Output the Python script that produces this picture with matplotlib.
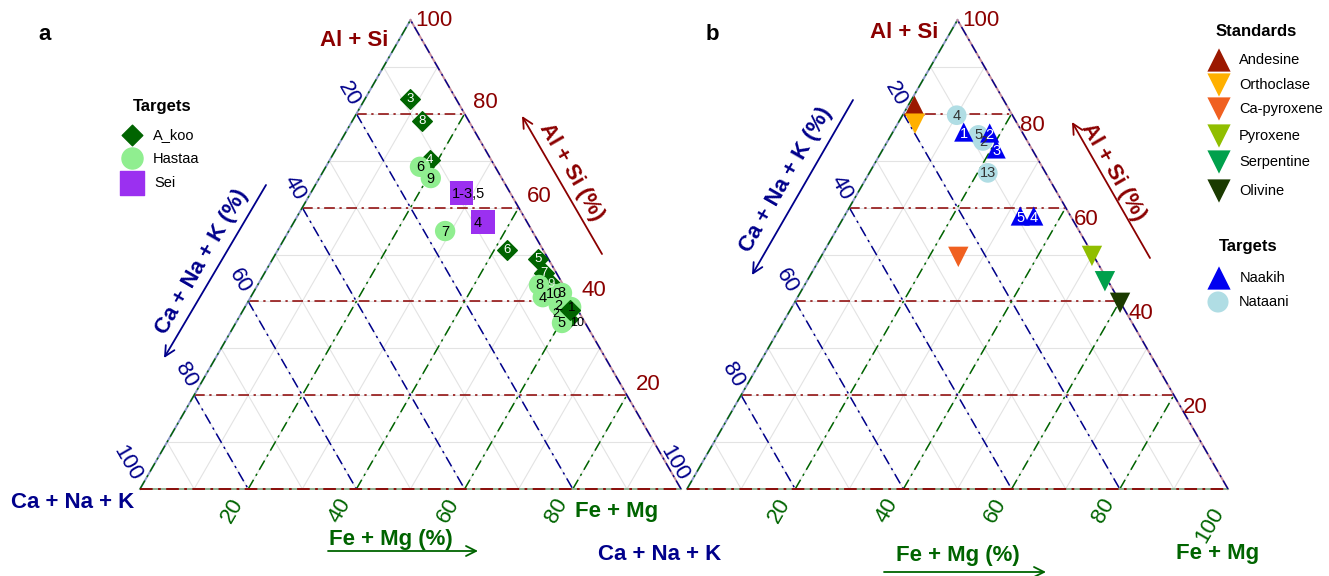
import numpy as np
import matplotlib
matplotlib.use('Agg')
import matplotlib.pyplot as plt

plt.rcParams['font.family'] = ['Liberation Sans', 'DejaVu Sans']

# ---------------- data (ternary %, Al+Si / Fe+Mg ; Ca+Na+K = rest) ----------------
akoo_labels = ['3', '8', '4', '6', '5', '7', '9', '1', '2', '10']
akoo_al = [83.2, 78.5, 70.1, 51.0, 49.0, 46.1, 43.7, 38.2, 37.5, 36.2]
akoo_fe = [8.3, 12.9, 18.5, 42.3, 49.1, 51.7, 54.1, 60.4, 59.4, 61.0]

hastaa_labels = ['6', '9', '7', '8', '4', '10', '3', '2', '1', '5']
hastaa_al = [68.7, 66.3, 55.0, 43.5, 40.9, 41.6, 41.8, 39.2, 38.8, 35.4]
hastaa_fe = [17.4, 20.6, 28.9, 52.0, 54.0, 55.7, 57.1, 57.8, 60.3, 60.3]

sei_labels = ['1-3,5', '4']
sei_al = [63.1, 56.9]
sei_fe = [27.9, 34.9]

std_names = ['Andesine', 'Orthoclase', 'Ca-pyroxene', 'Pyroxene', 'Serpentine', 'Olivine']
std_markers = ['^', 'v', 'v', 'v', 'v', 'v']
std_colors = ['#9B1800', '#FFB000', '#F06020', '#90BE00', '#00A04C', '#1A3A00']
std_al = [81.7, 77.9, 49.5, 49.7, 44.3, 39.7]
std_fe = [1.2, 3.2, 25.4, 50.0, 55.1, 60.2]

naakih_labels = ['1', '2', '3', '5', '4']
naakih_al = [76.1, 75.9, 72.5, 58.2, 58.2]
naakih_fe = [13.1, 18.0, 20.9, 32.5, 35.0]

nataani_labels = ['4', '5', '2', '13']
nataani_al = [79.7, 75.5, 74.2, 67.4]
nataani_fe = [10.0, 16.1, 17.6, 21.9]

ticks = [20, 40, 60, 80, 100]

# ---------------- colours ----------------
RED = '#8B0000'
BLUE = '#00008B'
GREEN = '#006400'
GRID = '#e3e3e3'
DD = (0, (7, 3, 1.5, 3))

W, H = 1329, 576
fig = plt.figure(figsize=(W / 100, H / 100), dpi=100)
ax = fig.add_axes([0, 0, 1, 1])
ax.set_xlim(0, W)
ax.set_ylim(H, 0)
ax.axis('off')

SIDE, HT = 541.0, 469.0


def tern(x0, y0, al, fe):
    al = np.asarray(al, float)
    fe = np.asarray(fe, float)
    return x0 + (fe + al / 2) / 100 * SIDE, y0 - al / 100 * HT


def seg(x0, y0, p, q, **kw):
    xs, ys = tern(x0, y0, [p[0], q[0]], [p[1], q[1]])
    ax.plot(xs, ys, **kw)


def draw_frame(x0, y0):
    # fine grid
    for v in range(10, 100, 10):
        seg(x0, y0, (v, 0), (v, 100 - v), color=GRID, lw=0.8, zorder=1)
        seg(x0, y0, (100 - v, 0), (0, 100 - v), color=GRID, lw=0.8, zorder=1)
        seg(x0, y0, (0, v), (100 - v, v), color=GRID, lw=0.8, zorder=1)
    # major dash-dot lines
    for v in [20, 40, 60, 80]:
        seg(x0, y0, (v, 0), (v, 100 - v), color=RED, lw=1.1, ls=DD, zorder=2)
        seg(x0, y0, (100 - v, 0), (0, 100 - v), color=BLUE, lw=1.1, ls=DD, zorder=2)
        seg(x0, y0, (0, v), (100 - v, v), color=GREEN, lw=1.1, ls=DD, zorder=2)
    # edges
    seg(x0, y0, (0, 0), (100, 0), color='#8d98c8', lw=1.4, zorder=2)
    seg(x0, y0, (0, 0), (100, 0), color=GREEN, lw=1.0, ls=DD, zorder=3)
    seg(x0, y0, (0, 100), (100, 0), color='#c48c9c', lw=1.4, zorder=2)
    seg(x0, y0, (0, 100), (100, 0), color=BLUE, lw=1.0, ls=DD, zorder=3)
    seg(x0, y0, (0, 0), (0, 100), color='#8fae8f', lw=1.4, zorder=2)
    seg(x0, y0, (0, 0), (0, 100), color=RED, lw=1.3, ls=DD, zorder=3)


def draw_ticks(x0, y0, al_off, fe100):
    tfs = 16
    for v in ticks:
        # Al+Si on the right edge
        px, py = tern(x0, y0, v, 100 - v)
        if v == 100:
            ax.text(px + 23, py + 1, str(v), color=RED, fontsize=tfs, ha='center', va='center')
        else:
            ax.text(px + al_off[0], py + al_off[1], str(v), color=RED, fontsize=tfs,
                    ha='center', va='center')
        # Ca+Na+K on the left edge
        px, py = tern(x0, y0, 100 - v, 0)
        if v == 100:
            ax.text(px - 13, py - 26, str(v), color=BLUE, fontsize=tfs, rotation=-60,
                    ha='center', va='center', rotation_mode='anchor')
        else:
            ax.text(px - 8, py - 20, str(v), color=BLUE, fontsize=tfs, rotation=-60,
                    ha='center', va='center', rotation_mode='anchor')
        # Fe+Mg on the bottom
        px, py = tern(x0, y0, 0, v)
        if v == 100:
            if fe100:
                ax.text(px - 18, py + 36, str(v), color=GREEN, fontsize=tfs, rotation=60,
                        ha='center', va='center', rotation_mode='anchor')
        else:
            ax.text(px - 16, py + 22, str(v), color=GREEN, fontsize=tfs, rotation=60,
                    ha='center', va='center', rotation_mode='anchor')


def arrow(tail, head, color):
    ax.annotate('', xy=head, xytext=tail,
                arrowprops=dict(arrowstyle='->', color=color, lw=1.3, mutation_scale=18,
                                shrinkA=0, shrinkB=0))


LFS = 16
# ================= panel a =================
xa, ya = 140, 489
draw_frame(xa, ya)
draw_ticks(xa, ya, (21, -11), False)
ax.text(45, 35, 'a', fontsize=16, fontweight='bold', ha='center', va='center')
ax.text(354, 40, 'Al + Si', color=RED, fontsize=LFS, fontweight='bold', ha='center', va='center')
ax.text(73, 503, 'Ca + Na + K', color=BLUE, fontsize=LFS, fontweight='bold', ha='center', va='center')
ax.text(617, 512, 'Fe + Mg', color=GREEN, fontsize=LFS, fontweight='bold', ha='center', va='center')
ax.text(571, 172, 'Al + Si (%)', color=RED, fontsize=LFS, fontweight='bold', rotation=-60,
        ha='center', va='center', rotation_mode='anchor')
arrow((602, 254), (522, 116), RED)
ax.text(202, 262, 'Ca + Na + K (%)', color=BLUE, fontsize=LFS, fontweight='bold', rotation=60,
        ha='center', va='center', rotation_mode='anchor')
arrow((266, 185), (164, 358), BLUE)
ax.text(391, 539, 'Fe + Mg (%)', color=GREEN, fontsize=LFS, fontweight='bold', ha='center', va='center')
arrow((328, 551), (478, 551), GREEN)

# markers panel a
akx, aky = tern(xa, ya, akoo_al, akoo_fe)
ax.scatter(akx, aky, marker='D', s=100, color='#006400', edgecolors='#006400', zorder=5)
hx, hy = tern(xa, ya, hastaa_al, hastaa_fe)
ax.scatter(hx, hy, marker='o', s=215, color='#90EE90', edgecolors='none', zorder=6)
# A_koo 1 drawn on top
i1 = akoo_labels.index('1')
ax.scatter([akx[i1]], [aky[i1]], marker='D', s=100, color='#006400', zorder=7)
sx, sy = tern(xa, ya, sei_al, sei_fe)
ax.scatter(sx, sy, marker='s', s=290, color='#9B30F0', edgecolors='none', zorder=6)

akoo_off = {'2': (-7, 1), '10': (9, 4), '1': (2, -2)}
for lab, x, y in zip(akoo_labels, akx, aky):
    dx, dy = akoo_off.get(lab, (0, 0))
    col = 'black' if lab in ('1', '2', '10') else 'white'
    if lab == '9':
        col = '#d9f2d9'
    fs = 9 if lab in ('2', '10') else 9.5
    ax.text(x + dx, y + dy, lab, color=col, fontsize=fs, ha='center', va='center', zorder=9)
for lab, x, y in zip(hastaa_labels, hx, hy):
    if lab == '1':
        continue
    ax.text(x, y + 0.5, lab, color='black', fontsize=10.5, ha='center', va='center', zorder=9)
for lab, x, y in zip(sei_labels, sx, sy):
    ax.text(x - 9.5, y + 0.5, lab, color='black', fontsize=10.5, ha='left', va='center', zorder=9)

# legend a
ax.text(162, 106, 'Targets', fontsize=12, fontweight='bold', ha='center', va='center')
ax.scatter([132], [135], marker='D', s=110, color='#006400')
ax.scatter([132], [158], marker='o', s=230, color='#90EE90')
ax.scatter([132], [183], marker='s', s=290, color='#9B30F0')
ax.text(153, 135, 'A_koo', fontsize=10.5, ha='left', va='center')
ax.text(153, 159, 'Hastaa', fontsize=10.5, ha='left', va='center')
ax.text(154, 183, 'Sei', fontsize=10.5, ha='left', va='center')

# ================= panel b =================
xb, yb = 687, 489
draw_frame(xb, yb)
draw_ticks(xb, yb, (21, 12), True)
ax.text(712, 35, 'b', fontsize=16, fontweight='bold', ha='center', va='center')
ax.text(904, 32, 'Al + Si', color=RED, fontsize=LFS, fontweight='bold', ha='center', va='center')
ax.text(660, 555, 'Ca + Na + K', color=BLUE, fontsize=LFS, fontweight='bold', ha='center', va='center')
ax.text(1218, 553, 'Fe + Mg', color=GREEN, fontsize=LFS, fontweight='bold', ha='center', va='center')
ax.text(1113, 172, 'Al + Si (%)', color=RED, fontsize=LFS, fontweight='bold', rotation=-60,
        ha='center', va='center', rotation_mode='anchor')
arrow((1150, 258), (1072, 122), RED)
ax.text(786, 180, 'Ca + Na + K (%)', color=BLUE, fontsize=LFS, fontweight='bold', rotation=60,
        ha='center', va='center', rotation_mode='anchor')
arrow((853, 100), (752, 275), BLUE)
ax.text(958, 556, 'Fe + Mg (%)', color=GREEN, fontsize=LFS, fontweight='bold', ha='center', va='center')
arrow((884, 572), (1046, 572), GREEN)

# markers panel b
stx, sty = tern(xb, yb, std_al, std_fe)
for m, c, x, y in zip(std_markers, std_colors, stx, sty):
    ax.scatter([x], [y], marker=m, s=215, color=c, edgecolors='none', zorder=5)
ntx, nty = tern(xb, yb, nataani_al, nataani_fe)
ax.scatter(ntx, nty, marker='o', s=200, color='#B0DDE4', edgecolors='none', zorder=6)
nkx, nky = tern(xb, yb, naakih_al, naakih_fe)
ax.scatter(nkx, nky, marker='^', s=190, color='#0000F0', edgecolors='none', zorder=7)
for lab, x, y in zip(nataani_labels, ntx, nty):
    ax.text(x, y + 0.5, lab, color='#333333', fontsize=10.5, ha='center', va='center', zorder=9)
for lab, x, y in zip(naakih_labels, nkx, nky):
    ax.text(x, y + 2, lab, color='white', fontsize=10.5, ha='center', va='center', zorder=9)

# legend b
ax.text(1256, 32, 'Standards', fontsize=12, fontweight='bold', ha='center', va='center')
leg_y = [60, 85, 109, 136, 162, 191]
for m, c, n, y in zip(std_markers, std_colors, std_names, leg_y):
    ax.scatter([1219], [y], marker=m, s=280, color=c, edgecolors='none')
    ax.text(1239, y, n, fontsize=10.5, ha='left', va='center')
ax.text(1248, 247, 'Targets', fontsize=12, fontweight='bold', ha='center', va='center')
ax.scatter([1219], [278], marker='^', s=280, color='#0000F0', edgecolors='none')
ax.text(1240, 278, 'Naakih', fontsize=10.5, ha='left', va='center')
ax.scatter([1218], [302], marker='o', s=230, color='#B0DDE4', edgecolors='none')
ax.text(1239, 302, 'Nataani', fontsize=10.5, ha='left', va='center')

fig.savefig('out.png', dpi=100)
